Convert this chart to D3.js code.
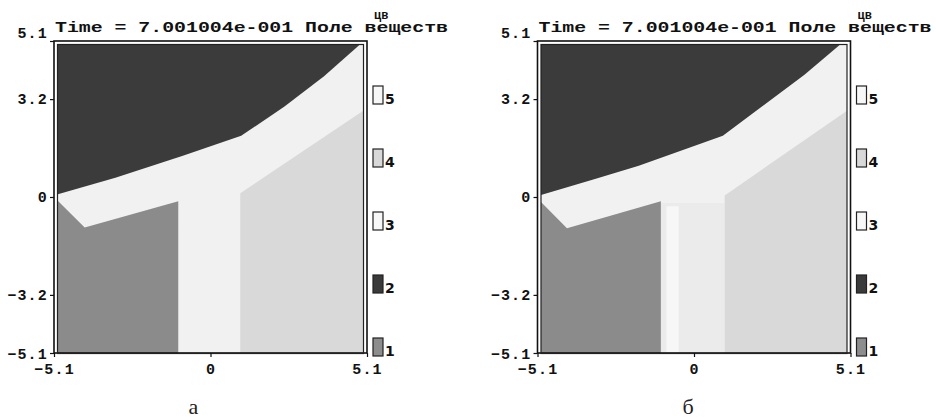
<!DOCTYPE html>
<html>
<head>
<meta charset="utf-8">
<script src="https://cdn.jsdelivr.net/npm/d3@7"></script>
<style>
  body { margin: 0; background: #fff; }
  svg { display: block; }
  .tick text { font-family: "Liberation Mono", "DejaVu Sans Mono", monospace; font-weight: bold; font-size: 15px; fill: #111; }
</style>
</head>
<body>
<svg id="chart" width="936" height="419"></svg>
<script>
// values
const captions = ['а', 'б'];
const titleText = 'Time = 7.001004e-001 Поле веществ';
const legendTitle = 'цв';
const legendLabels = [1, 2, 3, 4, 5];
const legendColors = ['#8d8d8d', '#3a3a3a', '#f7f7f7', '#d8d8d8', '#f7f7f7'];
const xTicks = [-5.1, 0, 5.1];
const yTicks = [-5.1, -3.2, 0, 3.2, 5.1];

// regions in model coordinates (x, y)
const bandColor = '#f1f1f1';
const darkA = [[-5.1, 5.1], [-5.1, 0.05], [-3.1, 0.63], [-0.9, 1.35], [1.0, 2.0], [2.4, 2.95], [3.7, 3.95], [5.0, 5.1]];
const grayA = [[-5.1, 0.0], [-4.1, -1.0], [-1.05, -0.14], [-1.05, -5.1], [-5.1, -5.1]];
const lightA = [[0.97, 0.12], [5.1, 2.9], [5.1, -5.1], [0.97, -5.1]];

const darkB = [[-5.1, 5.1], [-5.1, 0.03], [-3.2, 0.6], [-1.8, 1.02], [0.94, 2.0], [2.04, 2.83], [3.6, 4.0], [4.9, 5.1]];
const grayB = [[-5.1, -0.05], [-4.14, -1.02], [-1.08, -0.14], [-1.08, -5.1], [-5.1, -5.1]];
const lightB = [[1.0, 0.05], [5.1, 2.9], [5.1, -5.1], [1.0, -5.1]];
const stemB = [[-1.08, -0.2], [1.0, -0.2], [1.0, -5.1], [-1.08, -5.1]];
const stripeB = [[-0.9, -0.3], [-0.5, -0.3], [-0.5, -5.1], [-0.9, -5.1]];

const panelData = [
  { regions: [[darkA, '#3b3b3b'], [grayA, '#8b8b8b'], [lightA, '#d9d9d9']] },
  { regions: [[stemB, '#ebebeb'], [stripeB, '#f7f7f7'], [darkB, '#3b3b3b'], [grayB, '#8b8b8b'], [lightB, '#d9d9d9']] }
];

const svg = d3.select('#chart');
const offsets = [0, 483.5];

panelData.forEach((p, i) => {
  const off = offsets[i];
  const x = d3.scaleLinear().domain([-5.1, 5.1]).range([54 + off, 367 + off]);
  const y = d3.scaleLinear().domain([-5.1, 5.1]).range([353, 41]);
  const g = svg.append('g');

  // fill area sits inside the inner frame line
  const clipId = 'clip' + i;
  svg.append('clipPath').attr('id', clipId)
    .append('rect')
    .attr('x', x(-5.1) + 3.5).attr('y', y(5.1) + 3.5)
    .attr('width', x(5.1) - x(-5.1) - 7).attr('height', y(-5.1) - y(5.1) - 3);

  const field = g.append('g').attr('clip-path', `url(#${clipId})`);
  field.append('rect')
    .attr('x', x(-5.1)).attr('y', y(5.1))
    .attr('width', x(5.1) - x(-5.1)).attr('height', y(-5.1) - y(5.1))
    .attr('fill', bandColor);

  const line = d3.line().x(d => x(d[0])).y(d => y(d[1]));
  field.selectAll('path.region')
    .data(p.regions)
    .enter().append('path')
    .attr('class', 'region')
    .attr('d', d => line(d[0]) + 'Z')
    .attr('fill', d => d[1]);

  // double frame
  g.append('rect')
    .attr('x', x(-5.1)).attr('y', y(5.1))
    .attr('width', x(5.1) - x(-5.1)).attr('height', y(-5.1) - y(5.1))
    .attr('fill', 'none').attr('stroke', '#111').attr('stroke-width', 1.6);
  g.append('rect')
    .attr('x', x(-5.1) + 3.5).attr('y', y(5.1) + 3.5)
    .attr('width', x(5.1) - x(-5.1) - 7).attr('height', y(-5.1) - y(5.1) - 3)
    .attr('fill', 'none').attr('stroke', '#222').attr('stroke-width', 1.2);

  // axes
  const yAxis = g.append('g')
    .attr('transform', `translate(${x(-5.1)},0)`)
    .call(d3.axisLeft(y).tickValues(yTicks).tickSize(4).tickPadding(2).tickFormat(d => d3.format('')(d)));
  yAxis.select('.domain').remove();
  yAxis.selectAll('line').attr('stroke', '#111').attr('stroke-width', 1.2);
  yAxis.selectAll('text')
    .attr('letter-spacing', 1.2)
    .attr('dy', d => d === 5.1 ? '-0.25em' : d === -5.1 ? '0.35em' : '0.32em');

  const xAxis = g.append('g')
    .attr('transform', `translate(0,${y(-5.1)})`)
    .call(d3.axisBottom(x).tickValues(xTicks).tickSize(4).tickPadding(3).tickFormat(d => d3.format('')(d)));
  xAxis.select('.domain').remove();
  xAxis.selectAll('line').attr('stroke', '#111').attr('stroke-width', 1.2);
  xAxis.selectAll('text').attr('letter-spacing', 1.2).attr('dy', '0.95em');

  // title
  g.append('text')
    .attr('x', x(-5.1) + 1).attr('y', 32)
    .attr('textLength', 393).attr('lengthAdjust', 'spacingAndGlyphs')
    .style('font-family', '"Liberation Mono", monospace')
    .style('font-weight', 'bold').style('font-size', '15px').style('fill', '#111')
    .text(titleText);

  // legend
  const lx = x(5.1) + 6;
  const ly = d3.scaleLinear().domain([1, 5]).range([347, 95]);
  g.append('text')
    .attr('x', lx + 1).attr('y', 19)
    .style('font-family', '"Liberation Mono", monospace')
    .style('font-weight', 'bold').style('font-size', '12px').style('fill', '#111')
    .text(legendTitle);
  const items = g.selectAll('g.leg')
    .data(legendLabels)
    .enter().append('g').attr('class', 'leg');
  items.append('rect')
    .attr('x', lx).attr('y', d => ly(d) - 9)
    .attr('width', 10).attr('height', 18)
    .attr('fill', (d, k) => legendColors[k])
    .attr('stroke', '#222').attr('stroke-width', 1.2);
  items.append('text')
    .attr('x', lx + 12).attr('y', d => ly(d) + 9)
    .style('font-family', '"DejaVu Sans", sans-serif')
    .style('font-weight', 'bold').style('font-size', '14px').style('fill', '#111')
    .text(d => d);

  // caption under panel
  g.append('text')
    .attr('x', x(0) - (i === 0 ? 17 : 6)).attr('y', 414)
    .attr('text-anchor', 'middle')
    .style('font-family', '"Liberation Serif", serif')
    .style('font-size', '22px').style('fill', '#222')
    .text(captions[i]);
});
</script>
</body>
</html>
